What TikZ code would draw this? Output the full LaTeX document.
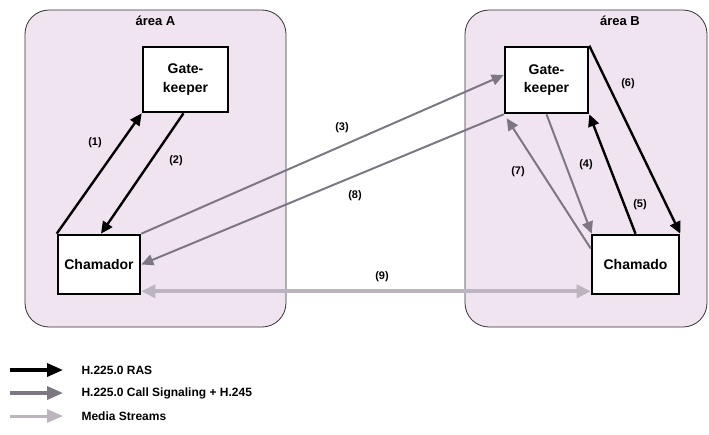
\documentclass[tikz,border=0pt]{standalone}
\usepackage{fontspec}
\setmainfont{Liberation Sans}
\usetikzlibrary{arrows.meta}
\usetikzlibrary{positioning}
\definecolor{arealilac}{HTML}{F1E4F1}
\definecolor{callgray}{HTML}{7D7784}
\definecolor{mediagray}{HTML}{BCB4BE}

\begin{document}
\begin{tikzpicture}[x=1pt, y=-1pt, font=\bfseries]

\tikzstyle{area} = [rectangle, rounded corners=24pt, draw=black!80, fill=arealilac, line width=0.8pt]
\tikzstyle{entity} = [rectangle, draw=black, fill=white, line width=2.6pt, align=center, text centered, font=\bfseries\fontsize{14}{18.5}\selectfont]
\tikzstyle{num} = [font=\bfseries\fontsize{11}{12}\selectfont]
\tikzstyle{legend} = [anchor=west, font=\bfseries\fontsize{12}{13}\selectfont]
\tikzstyle{ras} = [line width=2.4pt, black, -{Triangle[length=12pt,width=11pt]}]
\tikzstyle{call} = [line width=2pt, callgray, -{Triangle[length=12pt,width=11pt]}]
\tikzstyle{media} = [line width=4pt, mediagray, {Triangle[length=14pt,width=13pt]}-{Triangle[length=14pt,width=13pt]}]

\useasboundingbox (0,0) rectangle (709,434);

% areas
\node (areaA) [area, minimum width=261pt, minimum height=317pt] at (155.5,168.5) {};
\node (areaB) [area, minimum width=242pt, minimum height=317pt] at (586,168.5) {};
\node (labA) [below=3pt of areaA.north, font=\bfseries\fontsize{13}{14}\selectfont] {área A};
\node (labB) [below=3pt of areaB.north, xshift=34pt, font=\bfseries\fontsize{13}{14}\selectfont] {área B};

% entities
\node (gkA) [entity, minimum width=85pt, minimum height=65pt] at (185.5,79.5) {Gate-\\keeper};
\node (caller) [entity, minimum width=82pt, minimum height=59pt] at (99,264.5) {Chamador};
\node (gkB) [entity, minimum width=83pt, minimum height=66pt] at (546.5,80) {Gate-\\keeper};
\node (callee) [entity, minimum width=87pt, minimum height=59pt] at (635.5,264.5) {Chamado};

% messages
\draw [ras] (caller.north west) -- (gkA.south west);
\draw [ras] ([xshift=-2pt]gkA.south) -- ([xshift=2pt]caller.north);
\draw [call] (caller.north east) -- ([yshift=5pt]gkB.west);
\draw [call] (gkB.south west) -- (caller.east);
\draw [call] (gkB.south) -- ([xshift=1pt]callee.north west);
\draw [ras] (callee.north) -- (gkB.south east);
\draw [ras] (gkB.north east) -- (callee.north east);
\draw [call] ([yshift=16pt]callee.west) -- ([xshift=3pt,yshift=-4pt]gkB.south west);
\draw [media] ([yshift=4pt]caller.south east) -- ([yshift=4pt]callee.south west);

\node (n1) [num] at (95,143) {(1)};
\node (n2) [num] at (176,161) {(2)};
\node (n3) [num] at (342,128) {(3)};
\node (n4) [num] at (586,165) {(4)};
\node (n5) [num] at (640,205) {(5)};
\node (n6) [num] at (628,84) {(6)};
\node (n7) [num] at (518,172) {(7)};
\node (n8) [num] at (355,196) {(8)};
\node (n9) [num] at (382,277) {(9)};

% legend
\node (legras) [legend] at (78,370) {H.225.0 RAS};
\node (legcall) [legend] at (78,393) {H.225.0 Call Signaling + H.245};
\node (legmedia) [legend] at (78,416) {Media Streams};
\coordinate (legrasend) at (10,370);
\coordinate (legcallend) at (10,393);
\coordinate (legmediaend) at (10,416);
\draw [ras, line width=3.4pt, -{Triangle[length=16pt,width=13pt]}] (legrasend) -- ([xshift=-15pt]legras.west);
\draw [call, line width=3.4pt, -{Triangle[length=16pt,width=13pt]}] (legcallend) -- ([xshift=-15pt]legcall.west);
\draw [mediagray, line width=3pt, -{Triangle[length=16pt,width=13pt]}] (legmediaend) -- ([xshift=-15pt]legmedia.west);
\end{tikzpicture}
\end{document}
